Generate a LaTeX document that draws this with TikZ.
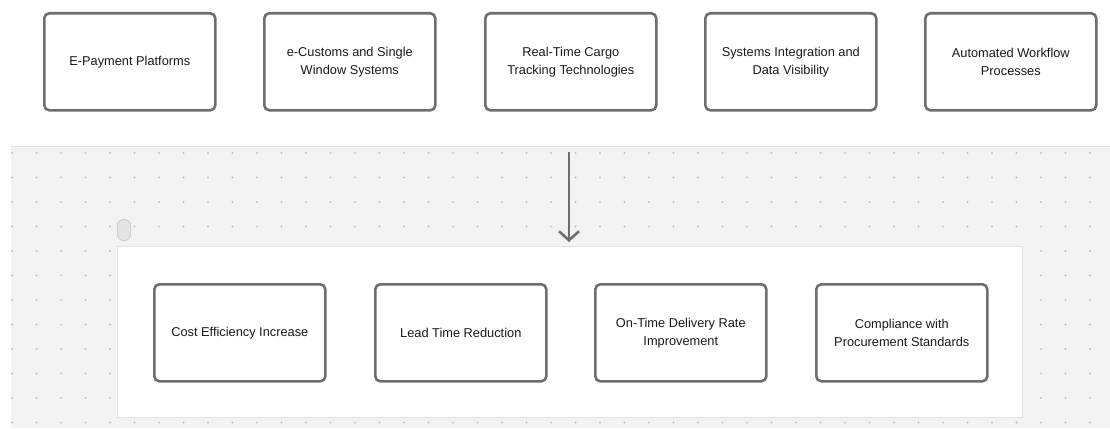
\documentclass[tikz,border=0pt]{standalone}
\usepackage{fontspec}
\setmainfont{Liberation Sans}
\usetikzlibrary{arrows.meta}
\definecolor{boxborder}{HTML}{6E6E6E}
\definecolor{canvasbg}{HTML}{F3F3F3}
\definecolor{canvasline}{HTML}{E3E3E3}
\definecolor{dotc}{HTML}{C2C2C2}
\definecolor{textc}{HTML}{1A1A1A}
\definecolor{arrowc}{HTML}{6E6E6E}
\begin{document}
\begin{tikzpicture}[x=1pt,y=-1pt,
  card/.style={draw=boxborder, line width=2.6pt, rounded corners=5pt, fill=white,
    minimum width=171pt, minimum height=97pt, align=center, text=textc,
    font=\fontsize{12.8}{18}\selectfont, inner sep=0pt, anchor=north west},
  panel/.style={fill=white, draw=canvasline, line width=0.8pt, anchor=north west, inner sep=0pt},
  pill/.style={fill=black!10, draw=black!20, line width=0.8pt, rounded corners=6pt,
    minimum width=13pt, minimum height=21pt, inner sep=0pt},
  link/.style={draw=arrowc, line width=2.6pt, -{Straight Barb[length=9pt,width=20pt,line width=2.6pt]}}
]
\useasboundingbox (0,0) rectangle (1110,428);
\fill[white] (0,0) rectangle (1110,428);
% canvas
\fill[canvasbg] (11,146) rectangle (1110,428);
\draw[canvasline, line width=1pt] (11,146.5) -- (1110,146.5);
\foreach \i in {0,...,44} {
  \foreach \j in {0,...,11} {
    \fill[dotc] ({12+24.5*\i},{153+24.5*\j}) circle (1.2pt);
  }
}
% inner panel
\node[panel, minimum width=905pt, minimum height=171pt] (panel) at (117,246) {};
\node[pill] (handle) at (124,230) {};
% top cards
\node[card] (t1) at (43,12) {E-Payment Platforms};
\node[card] (t2) at (263,12) {e-Customs and Single\\Window Systems};
\node[card] (t3) at (484,12) {Real-Time Cargo\\Tracking Technologies};
\node[card] (t4) at (704,12) {Systems Integration and\\Data Visibility};
\node[card] (t5) at (924,12) {Automated Workflow\\Processes};
% bottom cards
\node[card] (b1) at (153,283) {Cost Efficiency Increase};
\node[card] (b2) at (374,283) {Lead Time Reduction};
\node[card] (b3) at (594,283) {On-Time Delivery Rate\\Improvement};
\node[card] (b4) at (815,283) {Compliance with\\Procurement Standards};
% arrow
\coordinate (astart) at (569,152);
\coordinate (aend) at (569,242);
\draw[link] (astart) -- (aend);
\end{tikzpicture}
\end{document}
